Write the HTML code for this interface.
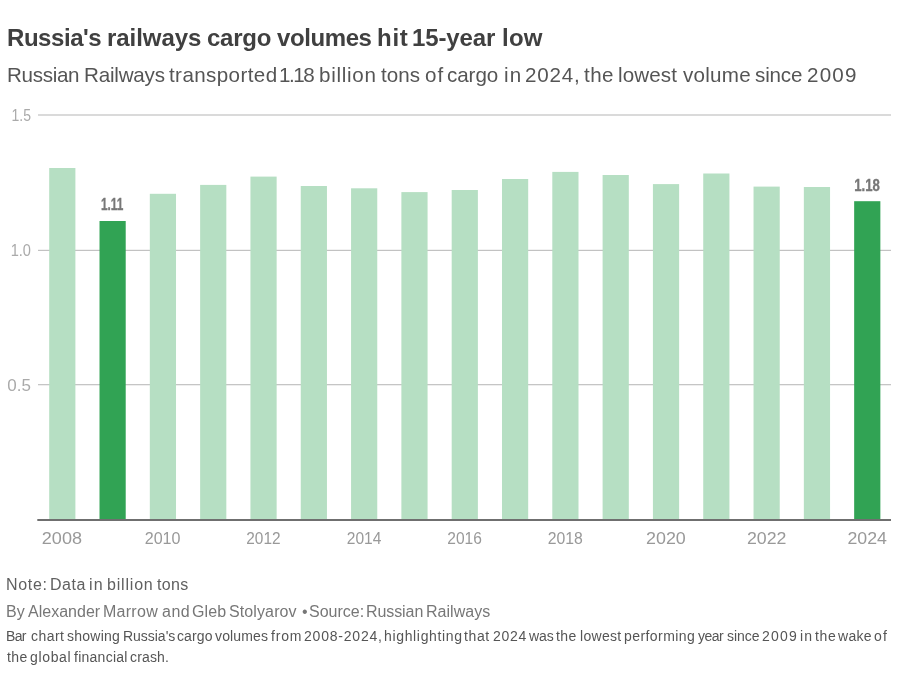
<!DOCTYPE html>
<html><head><meta charset="utf-8">
<style>
html,body{margin:0;padding:0;background:#fff;}
body{width:902px;height:683px;position:relative;overflow:hidden;-webkit-font-smoothing:antialiased;font-family:"Liberation Sans",Arial,sans-serif;}
.t{position:absolute;white-space:nowrap;margin:0;will-change:transform;}
#title,#sub{margin:0;font-weight:normal;}
.tw{font-size:24px;font-weight:bold;color:#404040;line-height:30px;}
.sw{font-size:20.6px;color:#555;line-height:26px;}
#note,#by,#desc{margin:0;}
.nw{font-size:16px;color:#606060;line-height:20px;}
.bw{font-size:16px;color:#777;line-height:20px;}
.dw{font-size:14px;color:#555;line-height:20px;}
svg{position:absolute;left:0;top:0;will-change:transform;}
</style></head><body>
<h1 id="title"><span class="t tw" style="left:6.59px;top:23px;letter-spacing:-0.434px">Russia's</span> <span class="t tw" style="left:106.58px;top:23px;letter-spacing:-0.06px">railways</span> <span class="t tw" style="left:206.98px;top:23px;letter-spacing:-0.223px">cargo</span> <span class="t tw" style="left:277.13px;top:23px;letter-spacing:-0.407px">volumes</span> <span class="t tw" style="left:377.05px;top:23px;letter-spacing:0.724px">hit</span> <span class="t tw" style="left:412.06px;top:23px;letter-spacing:-0.126px">15-year</span> <span class="t tw" style="left:502.25px;top:23px;letter-spacing:0.249px">low</span></h1>
<p id="sub"><span class="t sw" style="left:6.71px;top:62.3px;letter-spacing:-0.313px">Russian</span> <span class="t sw" style="left:84.11px;top:62.3px;letter-spacing:-0.202px">Railways</span> <span class="t sw" style="left:169.44px;top:62.3px;letter-spacing:0.398px">transported</span> <span class="t sw" style="left:279.41px;top:62.3px;letter-spacing:-1.5px">1.18</span> <span class="t sw" style="left:318.81px;top:62.3px;letter-spacing:0.711px">billion</span> <span class="t sw" style="left:380.74px;top:62.3px;letter-spacing:0.037px">tons</span> <span class="t sw" style="left:424.53px;top:62.3px;letter-spacing:0.929px">of</span> <span class="t sw" style="left:447.43px;top:62.3px;letter-spacing:-0.071px">cargo</span> <span class="t sw" style="left:503.51px;top:62.3px;letter-spacing:1.125px">in</span> <span class="t sw" style="left:525.08px;top:62.3px;letter-spacing:0.784px">2024,</span> <span class="t sw" style="left:584.44px;top:62.3px;letter-spacing:0.462px">the</span> <span class="t sw" style="left:618.49px;top:62.3px;letter-spacing:0.13px">lowest</span> <span class="t sw" style="left:683.17px;top:62.3px;letter-spacing:0.247px">volume</span> <span class="t sw" style="left:755.05px;top:62.3px;letter-spacing:-0.169px">since</span> <span class="t sw" style="left:806.98px;top:62.3px;letter-spacing:1.2px">2009</span></p>
<svg width="902" height="683" viewBox="0 0 902 683">
  <g fill="#bcbcbc">
    <rect x="38" y="114.45" width="853" height="1.1"/>
    <rect x="38" y="249.8" width="853" height="1.1"/>
    <rect x="38" y="384.15" width="853" height="1.1"/>
  </g>
  <g font-family="Liberation Sans, Arial, sans-serif" font-size="17" fill="#aaa" text-anchor="end">
    <text x="31" y="120.8" textLength="19.5" lengthAdjust="spacingAndGlyphs">1.5</text>
    <text x="31" y="256" textLength="20.3" lengthAdjust="spacingAndGlyphs">1.0</text>
    <text x="31" y="391" >0.5</text>
  </g>
  <g>
    <rect x="49.20" y="168" width="26.2" height="352.0" fill="#b6dfc3"/>
    <rect x="99.51" y="221" width="26.2" height="299.0" fill="#31a354"/>
    <rect x="149.82" y="193.8" width="26.2" height="326.2" fill="#b6dfc3"/>
    <rect x="200.13" y="184.9" width="26.2" height="335.1" fill="#b6dfc3"/>
    <rect x="250.44" y="176.6" width="26.2" height="343.4" fill="#b6dfc3"/>
    <rect x="300.75" y="186" width="26.2" height="334.0" fill="#b6dfc3"/>
    <rect x="351.06" y="188.3" width="26.2" height="331.7" fill="#b6dfc3"/>
    <rect x="401.37" y="192.1" width="26.2" height="327.9" fill="#b6dfc3"/>
    <rect x="451.68" y="190" width="26.2" height="330.0" fill="#b6dfc3"/>
    <rect x="501.99" y="179" width="26.2" height="341.0" fill="#b6dfc3"/>
    <rect x="552.30" y="171.9" width="26.2" height="348.1" fill="#b6dfc3"/>
    <rect x="602.61" y="175" width="26.2" height="345.0" fill="#b6dfc3"/>
    <rect x="652.92" y="184.1" width="26.2" height="335.9" fill="#b6dfc3"/>
    <rect x="703.23" y="173.5" width="26.2" height="346.5" fill="#b6dfc3"/>
    <rect x="753.54" y="186.6" width="26.2" height="333.4" fill="#b6dfc3"/>
    <rect x="803.85" y="187" width="26.2" height="333.0" fill="#b6dfc3"/>
    <rect x="854.16" y="201.2" width="26.2" height="318.8" fill="#31a354"/>
  </g>
  <rect x="37.3" y="519" width="853.7" height="2" fill="#6f6f6f"/>
  <g font-family="Liberation Sans, Arial, sans-serif" font-size="17" fill="#999">
    <text x="61.90" y="544" text-anchor="middle" textLength="40.2" lengthAdjust="spacingAndGlyphs">2008</text>
    <text x="162.60" y="544" text-anchor="middle" textLength="35.8" lengthAdjust="spacingAndGlyphs">2010</text>
    <text x="263.45" y="544" text-anchor="middle" textLength="34.3" lengthAdjust="spacingAndGlyphs">2012</text>
    <text x="364.10" y="544" text-anchor="middle" textLength="34.6" lengthAdjust="spacingAndGlyphs">2014</text>
    <text x="464.60" y="544" text-anchor="middle" textLength="34.6" lengthAdjust="spacingAndGlyphs">2016</text>
    <text x="565.35" y="544" text-anchor="middle" textLength="35.1" lengthAdjust="spacingAndGlyphs">2018</text>
    <text x="665.90" y="544" text-anchor="middle" textLength="39.8" lengthAdjust="spacingAndGlyphs">2020</text>
    <text x="766.75" y="544" text-anchor="middle" textLength="39.5" lengthAdjust="spacingAndGlyphs">2022</text>
    <text x="867.15" y="544" text-anchor="middle" textLength="39.5" lengthAdjust="spacingAndGlyphs">2024</text>
  </g>
  <g font-family="Liberation Sans, Arial, sans-serif" font-size="16.5" font-weight="bold" fill="#777" stroke="#777" stroke-width="0.35" text-anchor="middle">
    <text x="112.1" y="210" textLength="22.4" lengthAdjust="spacingAndGlyphs">1.11</text>
    <text x="867" y="191" textLength="25.6" lengthAdjust="spacingAndGlyphs">1.18</text>
  </g>
</svg>
<p id="note"><span class="t nw" style="left:6.22px;top:575px;letter-spacing:0.694px">Note:</span> <span class="t nw" style="left:50.02px;top:575px;letter-spacing:0.512px">Data</span> <span class="t nw" style="left:89.26px;top:575px;letter-spacing:1.2px">in</span> <span class="t nw" style="left:106.63px;top:575px;letter-spacing:0.804px">billion</span> <span class="t nw" style="left:156.54px;top:575px;letter-spacing:0.335px">tons</span></p>
<p id="by"><span class="t bw" style="left:5.96px;top:601.5px;letter-spacing:-0.002px">By</span> <span class="t bw" style="left:28.29px;top:601.5px;letter-spacing:0.009px">Alexander</span> <span class="t bw" style="left:103.16px;top:601.5px;letter-spacing:0.27px">Marrow</span> <span class="t bw" style="left:161.95px;top:601.5px;letter-spacing:0.537px">and</span> <span class="t bw" style="left:192.39px;top:601.5px;letter-spacing:0.076px">Gleb</span> <span class="t bw" style="left:228.98px;top:601.5px;letter-spacing:0.11px">Stolyarov</span> <span class="t bw" style="left:301.54px;top:601.5px;letter-spacing:0px">•</span> <span class="t bw" style="left:309.28px;top:601.5px;letter-spacing:-0.001px">Source:</span> <span class="t bw" style="left:366.26px;top:601.5px;letter-spacing:-0.088px">Russian</span> <span class="t bw" style="left:426.16px;top:601.5px;letter-spacing:0.038px">Railways</span></p>
<p id="desc"><span class="t dw" style="left:6.22px;top:626.3px;letter-spacing:-0.637px">Bar</span> <span class="t dw" style="left:31.13px;top:626.3px;letter-spacing:0.466px">chart</span> <span class="t dw" style="left:67.05px;top:626.3px;letter-spacing:0.24px">showing</span> <span class="t dw" style="left:122.92px;top:626.3px;letter-spacing:-0.027px">Russia's</span> <span class="t dw" style="left:177.03px;top:626.3px;letter-spacing:0.105px">cargo</span> <span class="t dw" style="left:215.47px;top:626.3px;letter-spacing:0.154px">volumes</span> <span class="t dw" style="left:271.4px;top:626.3px;letter-spacing:0.837px">from</span> <span class="t dw" style="left:303.91px;top:626.3px;letter-spacing:0.79px">2008-2024,</span> <span class="t dw" style="left:383.7px;top:626.3px;letter-spacing:0.658px">highlighting</span> <span class="t dw" style="left:463.99px;top:626.3px;letter-spacing:0.625px">that</span> <span class="t dw" style="left:492.51px;top:626.3px;letter-spacing:0.737px">2024</span> <span class="t dw" style="left:529.02px;top:626.3px;letter-spacing:-0.103px">was</span> <span class="t dw" style="left:556.39px;top:626.3px;letter-spacing:0.411px">the</span> <span class="t dw" style="left:579.77px;top:626.3px;letter-spacing:0.308px">lowest</span> <span class="t dw" style="left:624.11px;top:626.3px;letter-spacing:0.436px">performing</span> <span class="t dw" style="left:697.67px;top:626.3px;letter-spacing:-0.553px">year</span> <span class="t dw" style="left:727.15px;top:626.3px;letter-spacing:-0.036px">since</span> <span class="t dw" style="left:762.2px;top:626.3px;letter-spacing:1.2px">2009</span> <span class="t dw" style="left:799.86px;top:626.3px;letter-spacing:1.2px">in</span> <span class="t dw" style="left:814.79px;top:626.3px;letter-spacing:0.711px">the</span> <span class="t dw" style="left:838.02px;top:626.3px;letter-spacing:0.295px">wake</span> <span class="t dw" style="left:873.75px;top:626.3px;letter-spacing:1.151px">of</span><span class="t dw" style="left:7.19px;top:646.8px;letter-spacing:0.411px">the</span> <span class="t dw" style="left:30.14px;top:646.8px;letter-spacing:0.663px">global</span> <span class="t dw" style="left:73.5px;top:646.8px;letter-spacing:0.257px">financial</span> <span class="t dw" style="left:129.73px;top:646.8px;letter-spacing:0.162px">crash.</span></p>
</body></html>
